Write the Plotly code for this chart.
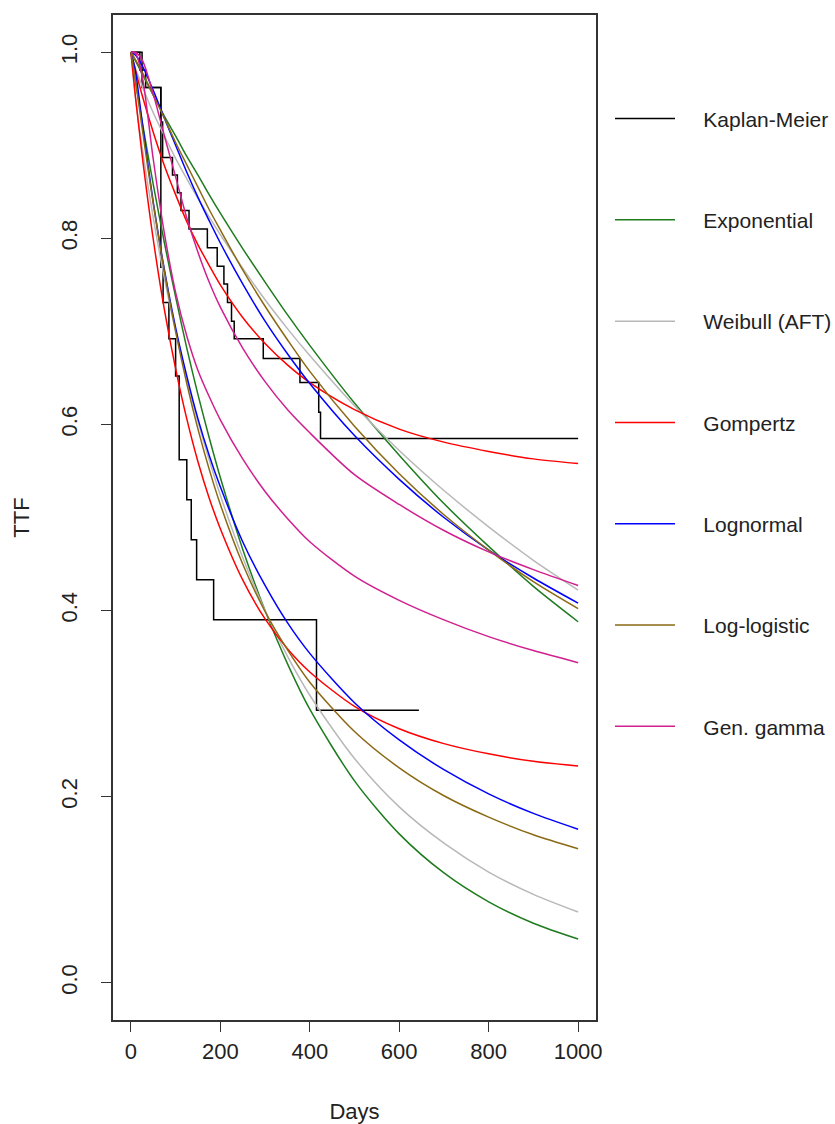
import plotly.graph_objects as go

# ---- data ----
days = [0, 10, 25, 50, 75, 100, 125, 150, 175, 200, 250, 300, 350, 400, 500, 600, 700, 800, 900, 1000]

exp_hi = [1, 0.991, 0.977, 0.954, 0.931, 0.910, 0.888, 0.868, 0.847, 0.827, 0.789, 0.753, 0.718, 0.685, 0.623, 0.567, 0.515, 0.469, 0.426, 0.388]
exp_lo = [1, 0.970, 0.926, 0.858, 0.795, 0.737, 0.682, 0.632, 0.586, 0.543, 0.466, 0.400, 0.343, 0.294, 0.217, 0.160, 0.118, 0.087, 0.064, 0.047]
wei_hi = [1, 0.983, 0.964, 0.935, 0.910, 0.886, 0.864, 0.843, 0.823, 0.804, 0.768, 0.734, 0.703, 0.674, 0.620, 0.572, 0.529, 0.490, 0.454, 0.422]
wei_lo = [1, 0.952, 0.898, 0.822, 0.757, 0.700, 0.649, 0.603, 0.562, 0.524, 0.457, 0.400, 0.351, 0.309, 0.241, 0.189, 0.150, 0.119, 0.095, 0.076]
gom_hi = [1, 0.981, 0.954, 0.914, 0.878, 0.847, 0.818, 0.793, 0.771, 0.750, 0.715, 0.687, 0.664, 0.645, 0.616, 0.595, 0.581, 0.571, 0.563, 0.558]
gom_lo = [1, 0.953, 0.890, 0.799, 0.723, 0.660, 0.606, 0.560, 0.521, 0.488, 0.433, 0.391, 0.359, 0.334, 0.297, 0.273, 0.257, 0.246, 0.238, 0.233]
lgn_hi = [1, 0.997, 0.986, 0.959, 0.929, 0.900, 0.871, 0.844, 0.819, 0.795, 0.751, 0.711, 0.676, 0.644, 0.588, 0.541, 0.500, 0.465, 0.435, 0.408]
lgn_lo = [1, 0.980, 0.926, 0.839, 0.766, 0.704, 0.652, 0.606, 0.567, 0.533, 0.474, 0.427, 0.387, 0.354, 0.301, 0.261, 0.229, 0.203, 0.182, 0.165]
llg_hi = [1, 0.992, 0.979, 0.954, 0.929, 0.903, 0.879, 0.855, 0.831, 0.809, 0.766, 0.727, 0.691, 0.657, 0.598, 0.547, 0.503, 0.465, 0.431, 0.402]
llg_lo = [1, 0.970, 0.919, 0.837, 0.764, 0.700, 0.644, 0.595, 0.552, 0.514, 0.450, 0.399, 0.358, 0.323, 0.270, 0.231, 0.201, 0.178, 0.159, 0.144]
gg_hi = [1, 1.000, 0.992, 0.955, 0.910, 0.866, 0.822, 0.785, 0.753, 0.726, 0.682, 0.646, 0.616, 0.591, 0.546, 0.514, 0.486, 0.463, 0.444, 0.427]
gg_lo = [1, 0.999, 0.975, 0.885, 0.805, 0.742, 0.695, 0.658, 0.630, 0.605, 0.563, 0.528, 0.499, 0.474, 0.437, 0.411, 0.390, 0.372, 0.357, 0.344]

km_hi_t = [0, 20, 33, 67, 71, 93, 104, 112, 130, 171, 193, 208, 216, 225, 231, 296, 378, 420, 424, 1000]
km_hi_s = [1.0, 0.981, 0.962, 0.925, 0.887, 0.868, 0.849, 0.830, 0.810, 0.790, 0.770, 0.751, 0.731, 0.711, 0.692, 0.671, 0.645, 0.613, 0.585, 0.585]
km_lo_t = [0, 25, 67, 72, 85, 100, 108, 125, 135, 147, 185, 415, 644]
km_lo_s = [1.0, 0.962, 0.769, 0.731, 0.692, 0.652, 0.562, 0.519, 0.476, 0.433, 0.390, 0.293, 0.293]

x_ticks = [0, 200, 400, 600, 800, 1000]
y_ticks = [0.0, 0.2, 0.4, 0.6, 0.8, 1.0]
y_ticktext = ["0.0", "0.2", "0.4", "0.6", "0.8", "1.0"]

models = [
    ("Exponential", "#1E7B1E", exp_hi, exp_lo),
    ("Weibull (AFT)", "#B8B8B8", wei_hi, wei_lo),
    ("Gompertz", "#FF0000", gom_hi, gom_lo),
    ("Lognormal", "#0000FF", lgn_hi, lgn_lo),
    ("Log-logistic", "#8B6914", llg_hi, llg_lo),
    ("Gen. gamma", "#D02090", gg_hi, gg_lo),
]

PAD = "\u00a0" * 4

fig = go.Figure()

# Kaplan-Meier step curves
fig.add_trace(go.Scatter(x=km_hi_t, y=km_hi_s, mode="lines", line=dict(color="black", width=1.5, shape="hv"),
                         name=PAD + "Kaplan-Meier", legendgroup="km", showlegend=True))
fig.add_trace(go.Scatter(x=km_lo_t, y=km_lo_s, mode="lines", line=dict(color="black", width=1.5, shape="hv"),
                         name=PAD + "Kaplan-Meier", legendgroup="km", showlegend=False))

for name, color, hi, lo in models:
    fig.add_trace(go.Scatter(x=days, y=hi, mode="lines",
                             line=dict(color=color, width=1.5, shape="spline", smoothing=0.8),
                             name=PAD + name, legendgroup=name, showlegend=True))
    fig.add_trace(go.Scatter(x=days, y=lo, mode="lines",
                             line=dict(color=color, width=1.5, shape="spline", smoothing=0.8),
                             name=PAD + name, legendgroup=name, showlegend=False))

font_family = "Liberation Sans, Arial, sans-serif"
FS = 22
LFS = 21

fig.update_layout(
    width=835, height=1124,
    margin=dict(l=113, r=239, t=15, b=104, autoexpand=False),
    paper_bgcolor="white", plot_bgcolor="white",
    font=dict(family=font_family, size=FS, color="#222222"),
    showlegend=True,
    legend=dict(x=1.029, y=0.917, xanchor="left", yanchor="top",
                tracegroupgap=71, itemwidth=60,
                font=dict(size=LFS, color="#222222"),
                bgcolor="rgba(0,0,0,0)", borderwidth=0),
    xaxis=dict(range=[-40, 1040], tickvals=x_ticks, ticks="outside", ticklen=10, tickwidth=1.2,
               tickcolor="#333333", showline=True, linecolor="#333333", linewidth=1.5, mirror=True,
               showgrid=False, zeroline=False, ticklabelstandoff=1, automargin=False,
               tickfont=dict(size=FS),
               title=dict(text="Days", standoff=43, font=dict(size=FS))),
    yaxis=dict(range=[-0.04, 1.04], tickvals=y_ticks, ticktext=y_ticktext, tickangle=-90,
               ticks="outside", ticklen=10, tickwidth=1.2, tickcolor="#333333",
               showline=True, linecolor="#333333", linewidth=1.5, mirror=True,
               showgrid=False, zeroline=False, ticklabelstandoff=15, automargin=False,
               tickfont=dict(size=FS),
               title=dict(text="TTF", standoff=22, font=dict(size=FS))),
)

fig.write_html("out.html")
